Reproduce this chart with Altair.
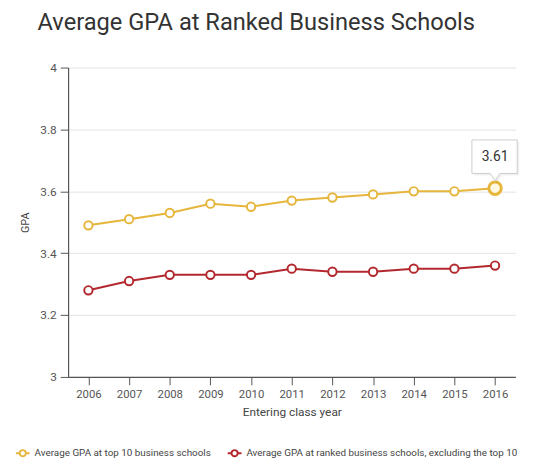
import altair as alt
import pandas as pd

years = ["2006", "2007", "2008", "2009", "2010", "2011", "2012", "2013", "2014", "2015", "2016"]
top10 = [3.49, 3.51, 3.53, 3.56, 3.55, 3.57, 3.58, 3.59, 3.60, 3.60, 3.61]
ranked = [3.28, 3.31, 3.33, 3.33, 3.33, 3.35, 3.34, 3.34, 3.35, 3.35, 3.36]
series_names = [
    "Average GPA at top 10 business schools",
    "Average GPA at ranked business schools, excluding the top 10",
]
colors = ["#e6b63c", "#b3282e"]
y_ticks = [3, 3.2, 3.4, 3.6, 3.8, 4]

rows = []
for name, vals in zip(series_names, [top10, ranked]):
    for yr, v in zip(years, vals):
        rows.append({"year": yr, "gpa": v, "series": name})
df = pd.DataFrame(rows)
hl = pd.DataFrame([{"year": years[-1], "gpa": top10[-1], "series": series_names[0],
                    "label": f"{top10[-1]:.2f}"}])

FONT = "Roboto"

x = alt.X("year:O", title="Entering class year",
          scale=alt.Scale(type="point", padding=0.5),
          axis=alt.Axis(labelAngle=0, grid=False, tickSize=8, labelPadding=4,
                        titlePadding=7, labelFontSize=11.5))
y = alt.Y("gpa:Q", title="GPA",
          scale=alt.Scale(domain=[3, 4], nice=False, zero=False),
          axis=alt.Axis(values=y_ticks, grid=True, tickSize=8, labelPadding=4,
                        titlePadding=10, format="~g"))

legend_shape = "M-1,0L-0.45,0M0.45,0L1,0M-0.45,0A0.45,0.45,0,1,1,0.45,0A0.45,0.45,0,1,1,-0.45,0Z"
color = alt.Color("series:N",
                  scale=alt.Scale(domain=series_names, range=colors),
                  legend=alt.Legend(title=None, orient="none", direction="horizontal",
                                    legendX=-54, legendY=383,
                                    symbolType=legend_shape, symbolSize=196,
                                    symbolStrokeWidth=2, symbolFillColor="white",
                                    labelFontSize=10, labelColor="#444",
                                    labelFont=FONT, columnPadding=13, labelLimit=0,
                                    symbolOffset=0, labelOffset=4))

lines = alt.Chart(df).mark_line(strokeWidth=2).encode(x=x, y=y, color=color)
points = alt.Chart(df).mark_point(shape="circle", filled=True, fill="white",
                                  size=72, strokeWidth=2, opacity=1).encode(
    x=x, y=y, stroke=alt.Stroke("series:N", scale=alt.Scale(domain=series_names, range=colors), legend=None))

big = alt.Chart(hl).mark_point(shape="circle", filled=True, fill="#fff8e0",
                               size=160, strokeWidth=3, stroke=colors[0], opacity=1).encode(x=x, y=y)

box_path = "M-0.47,-0.98L0.45,-0.98L0.45,-0.3L0.1,-0.3L0,-0.15L-0.1,-0.3L-0.47,-0.3Z"
shadow = alt.Chart(hl).mark_point(shape=box_path, filled=True, fill="#000000", fillOpacity=0.06,
                                  size=10000, xOffset=2, yOffset=2, strokeWidth=0).encode(x=x, y=y)
box = alt.Chart(hl).mark_point(shape=box_path, filled=True, fill="white", fillOpacity=1,
                               stroke="#cccccc", strokeWidth=1, size=10000, opacity=1).encode(x=x, y=y)
label = alt.Chart(hl).mark_text(dy=-32, fontSize=14, color="#333", font="Roboto").encode(
    x=x, y=y, text="label:N")

chart = alt.layer(lines, points, big, shadow, box, label).properties(
    width=454, height=314,
    autosize=alt.AutoSizeParams(type="none"),
    padding={"left": 61, "top": 57, "right": 27, "bottom": 91},
    title=alt.TitleParams("Average GPA at Ranked Business Schools", font=FONT,
                          fontSize=24, fontWeight="normal", color="#333",
                          anchor="middle", dx=-36, offset=27),
).configure_view(stroke=None).configure_axis(
    domainColor="#555", tickColor="#555", labelColor="#555", titleColor="#444",
    labelFont=FONT, titleFont=FONT, labelFontSize=12, titleFontSize=12,
    titleFontWeight="normal", gridColor="#e3e3e3", domainWidth=1.2,
).configure_axisY(titleFontSize=11)

chart.save("out.html", embed_options={"renderer": "svg", "actions": False})
